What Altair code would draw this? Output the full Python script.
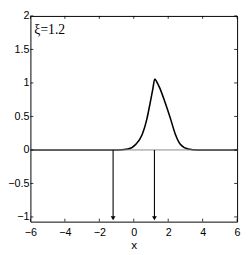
import altair as alt
import pandas as pd

# curve
curve_x = [-6, -1.0, -0.34, 0.12, 0.49, 0.76, 0.95, 1.1, 1.22, 1.35, 1.5, 1.83, 2.14, 2.42, 2.70, 3.16, 3.7, 6]
curve_y = [0, 0, 0.014, 0.085, 0.23, 0.46, 0.70, 0.90, 1.06, 1.01, 0.93, 0.70, 0.46, 0.23, 0.085, 0.014, 0, 0]

arrow_x = [-1.2, 1.2]
arrow_top = [0, 0]
arrow_bottom = [-1.0, -1.0]
arrow_tip = [-1.02, -1.02]

x_ticks = [-6, -4, -2, 0, 2, 4, 6]
y_ticks = [-1, -0.5, 0, 0.5, 1, 1.5, 2]
x_domain = [-6, 6]
y_domain = [-1.07, 2]

label_text = "ξ=1.2"

W, H = 212, 211
FONT = "Liberation Sans"

curve_df = pd.DataFrame({"x": curve_x, "y": curve_y})
arrow_df = pd.DataFrame({"x": arrow_x, "y0": arrow_top, "y1": arrow_bottom, "tip": arrow_tip})
xt_df = pd.DataFrame({"x": x_ticks})
yt_df = pd.DataFrame({"y": y_ticks})

xscale = alt.Scale(domain=x_domain, nice=False, zero=False)
yscale = alt.Scale(domain=y_domain, nice=False, zero=False)

xaxis = alt.Axis(values=x_ticks, tickCount=20, format="~g", labelPadding=5, title="x", titlePadding=3)
yaxis = alt.Axis(values=y_ticks, tickCount=20, format="~g", labelPadding=1.5, title=None)

line = alt.Chart(curve_df).mark_line(color="black", strokeWidth=1.6, interpolate="monotone").encode(
    x=alt.X("x:Q", scale=xscale, axis=xaxis),
    y=alt.Y("y:Q", scale=yscale, axis=yaxis),
)

zero = alt.Chart(pd.DataFrame({"y": [0]})).mark_rule(color="#888888", strokeWidth=1).encode(
    y=alt.Y("y:Q", scale=yscale)
)

shaft = alt.Chart(arrow_df).mark_rule(color="black", strokeWidth=1.1).encode(
    x=alt.X("x:Q", scale=xscale),
    y=alt.Y("y0:Q", scale=yscale),
    y2="y1:Q",
)

head = alt.Chart(arrow_df).mark_point(shape="triangle-down", filled=True, color="black",
                                      size=24, opacity=1).encode(
    x=alt.X("x:Q", scale=xscale),
    y=alt.Y("tip:Q", scale=yscale),
)

tick_b = alt.Chart(xt_df).mark_rule(color="black", strokeWidth=0.8).encode(
    x=alt.X("x:Q", scale=xscale), y=alt.value(H), y2=alt.value(H - 3))
tick_t = alt.Chart(xt_df).mark_rule(color="black", strokeWidth=0.8).encode(
    x=alt.X("x:Q", scale=xscale), y=alt.value(0), y2=alt.value(3))
tick_l = alt.Chart(yt_df).mark_rule(color="black", strokeWidth=0.8).encode(
    y=alt.Y("y:Q", scale=yscale), x=alt.value(0), x2=alt.value(3))
tick_r = alt.Chart(yt_df).mark_rule(color="black", strokeWidth=0.8).encode(
    y=alt.Y("y:Q", scale=yscale), x=alt.value(W), x2=alt.value(W - 3))

txt = alt.Chart(pd.DataFrame({"t": [label_text]})).mark_text(
    align="left", baseline="middle", font="Liberation Serif", fontSize=14, color="black"
).encode(x=alt.value(4), y=alt.value(15), text="t:N")

chart = alt.layer(line, zero, shaft, head, tick_b, tick_t, tick_l, tick_r, txt).properties(
    width=W, height=H,
    background="white",
    autosize=alt.AutoSizeParams(type="none"),
    padding={"left": 23, "top": 5, "right": 4, "bottom": 28},
).configure_view(stroke="black", strokeWidth=1).configure_axis(
    ticks=False, domain=False, grid=False, labelOverlap=False, labelFlush=False,
    labelFont=FONT, labelFontSize=11, labelColor="black",
    titleFont=FONT, titleFontSize=12, titleFontWeight="normal", titleColor="black",
)

chart.save("out.html", embed_options={"renderer": "svg", "actions": False})
